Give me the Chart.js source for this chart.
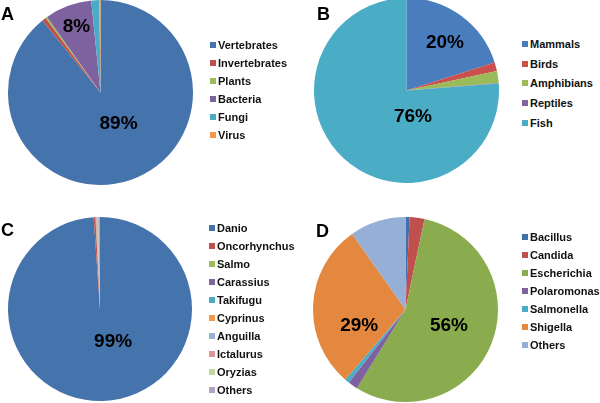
<!DOCTYPE html>
<html lang="en">
<head>
  <meta charset="UTF-8" />
  <title>Species distribution pies</title>
  <script src="https://cdn.jsdelivr.net/npm/chart.js"></script>
  <style>
    body { margin: 0; background: #fff; font-family: 'Liberation Sans', Arial, sans-serif; }
    #wrap { position: relative; width: 600px; height: 403px; overflow: hidden; }
    canvas { position: absolute; }
    .letter { position: absolute; font-weight: bold; font-size: 18px; line-height: 18px; color: #000; }
    .legend { position: absolute; font-weight: bold; font-size: 11px; color: #111; }
    .legend div { position: absolute; left: 0; white-space: nowrap; height: 12px; line-height: 12px; }
    .legend span { position: absolute; left: -8px; top: 3px; width: 6px; height: 6px; }
  </style>
</head>
<body>
  <div id="wrap">
    <canvas id="pieA" width="185" height="185" style="left:8px; top:0px"></canvas>
    <canvas id="pieB" width="185" height="185" style="left:314px; top:-2px"></canvas>
    <canvas id="pieC" width="184" height="184" style="left:8px; top:217px"></canvas>
    <canvas id="pieD" width="185" height="185" style="left:313px; top:217px"></canvas>
    <div class="letter" style="left:1px; top:5px">A</div>
    <div class="letter" style="left:317px; top:5px">B</div>
    <div class="letter" style="left:1px; top:221px">C</div>
    <div class="letter" style="left:316px; top:222px">D</div>
    <div class="legend" id="legA" style="left:218px; top:39px"></div>
    <div class="legend" id="legB" style="left:530px; top:38px"></div>
    <div class="legend" id="legC" style="left:217px; top:222px"></div>
    <div class="legend" id="legD" style="left:530px; top:231px"></div>
  </div>

  <script>
    // A - all organisms
    const groupsA = ['Vertebrates', 'Invertebrates', 'Plants', 'Bacteria', 'Fungi', 'Virus'];
    const valuesA = [89.2, 0.7, 0.3, 8.2, 1.4, 0.2];
    const colorsA = ['#4573AC', '#C0504D', '#9BBB59', '#7E62A0', '#4AACC6', '#F79646'];

    // B - vertebrates
    const groupsB = ['Mammals', 'Birds', 'Amphibians', 'Reptiles', 'Fish'];
    const valuesB = [20.1, 1.5, 2.1, 0.1, 76.2];
    const colorsB = ['#4A7DBE', '#C9504C', '#9BBB59', '#8064A2', '#4BACC6'];

    // C - fish genera
    const groupsC = ['Danio', 'Oncorhynchus', 'Salmo', 'Carassius', 'Takifugu', 'Cyprinus', 'Anguilla', 'Ictalurus', 'Oryzias', 'Others'];
    const valuesC = [98.9, 0.3, 0.02, 0.03, 0.03, 0.1, 0.15, 0.1, 0.07, 0.3];
    const colorsC = ['#4573AC', '#C0504D', '#9BBB59', '#8064A2', '#4BACC6', '#F79646', '#95B3D7', '#D99694', '#C3D69B', '#B2A2C7'];

    // D - bacteria genera
    const groupsD = ['Bacillus', 'Candida', 'Escherichia', 'Polaromonas', 'Salmonella', 'Shigella', 'Others'];
    const valuesD = [0.7, 2.6, 55.5, 1.7, 0.8, 28.9, 9.8];
    const colorsD = ['#3F6EAA', '#C0504D', '#8BAB4F', '#7E62A0', '#4AACC6', '#E4873F', '#95AFD7'];

    // percent labels: slice index, angle from top (deg, clockwise), distance as fraction of radius
    const pctLabels = {
      A: [{ i: 0, angle: 150, r: 0.39 }, { i: 3, angle: 340, r: 0.76 }],
      B: [{ i: 0, angle: 39, r: 0.66 }, { i: 4, angle: 166, r: 0.29 }],
      C: [{ i: 0, angle: 158, r: 0.38 }],
      D: [{ i: 2, angle: 110, r: 0.5 }, { i: 5, angle: 251, r: 0.53 }]
    };

    const pctPlugin = {
      id: 'pct',
      afterDatasetsDraw(chart, args, opts) {
        const meta = chart.getDatasetMeta(0);
        const arc0 = meta.data[0];
        const cx = arc0.x, cy = arc0.y, R = arc0.outerRadius;
        const ctx = chart.ctx;
        ctx.save();
        ctx.font = 'bold 19px "Liberation Sans", Arial, sans-serif';
        ctx.fillStyle = '#000';
        ctx.textAlign = 'center';
        ctx.textBaseline = 'middle';
        (opts.items || []).forEach(l => {
          const a = l.angle * Math.PI / 180;
          const v = chart.data.datasets[0].data[l.i];
          ctx.fillText(Math.round(v) + '%', cx + R * l.r * Math.sin(a), cy - R * l.r * Math.cos(a));
        });
        ctx.restore();
      }
    };

    function makePie(id, labels, values, colors, items) {
      new Chart(document.getElementById(id), {
        type: 'pie',
        data: {
          labels,
          datasets: [{ data: values, backgroundColor: colors, borderWidth: 0 }]
        },
        options: {
          responsive: false,
          animation: false,
          layout: { padding: 0 },
          plugins: {
            legend: { display: false },
            tooltip: { enabled: false },
            pct: { items }
          }
        },
        plugins: [pctPlugin]
      });
    }

    function makeLegend(id, labels, colors, step) {
      const el = document.getElementById(id);
      labels.forEach((name, k) => {
        const row = document.createElement('div');
        row.style.top = (k * step) + 'px';
        row.innerHTML = '<span style="background:' + colors[k] + '"></span>' + name;
        el.appendChild(row);
      });
    }

    makePie('pieA', groupsA, valuesA, colorsA, pctLabels.A);
    makePie('pieB', groupsB, valuesB, colorsB, pctLabels.B);
    makePie('pieC', groupsC, valuesC, colorsC, pctLabels.C);
    makePie('pieD', groupsD, valuesD, colorsD, pctLabels.D);

    makeLegend('legA', groupsA, colorsA, 18);
    makeLegend('legB', groupsB, colorsB, 19.7);
    makeLegend('legC', groupsC, colorsC, 18.05);
    makeLegend('legD', groupsD, colorsD, 18);
  </script>
</body>
</html>
